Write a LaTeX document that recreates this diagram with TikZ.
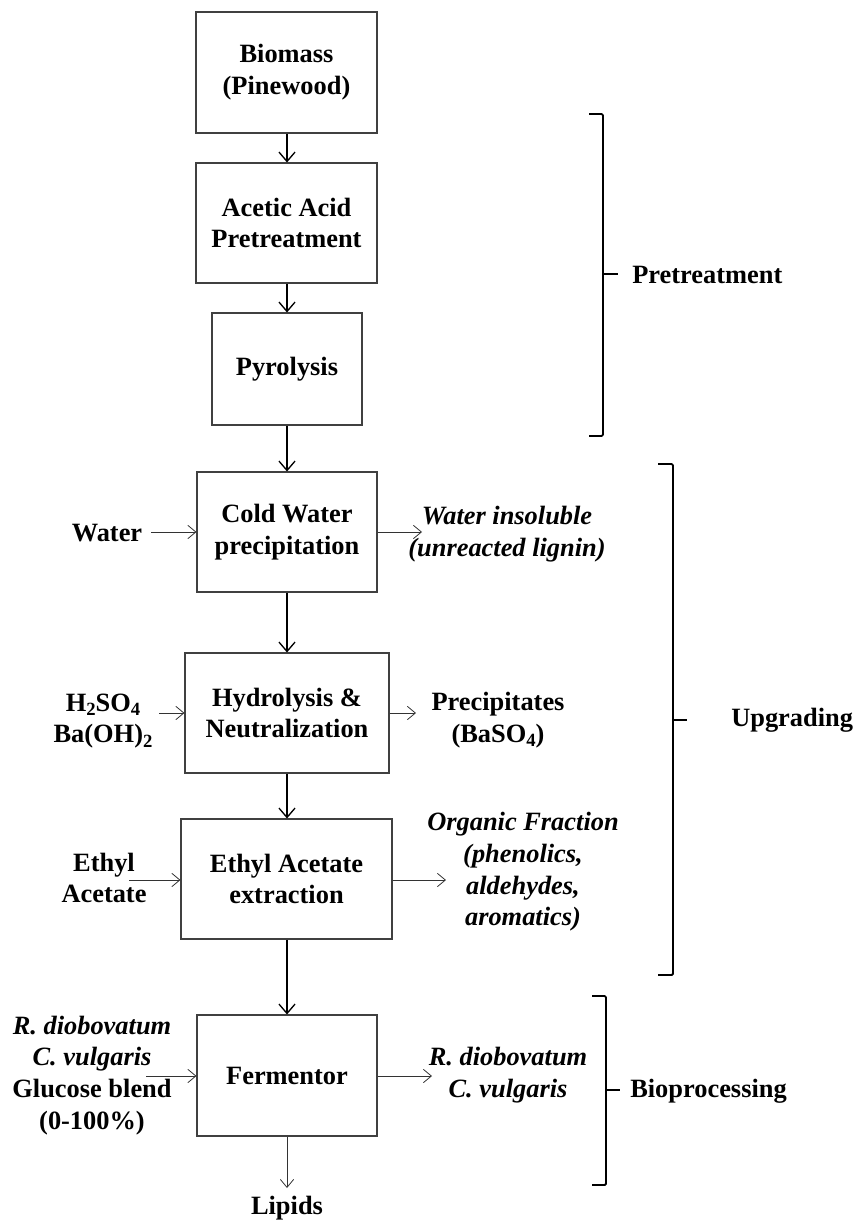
\documentclass[tikz,border=0pt]{standalone}
\usepackage{fontspec}
\setmainfont{Liberation Serif}
\usetikzlibrary{arrows.meta}
\newcommand\sbs[1]{\raisebox{-0.35ex}{\fontsize{14}{14}\selectfont #1}}
\begin{document}
\begin{tikzpicture}[x=0.75pt,y=-0.75pt,
  every node/.style={font=\fontsize{19.8}{23.8}\selectfont\bfseries, align=center, inner sep=0pt},
  procbox/.style={draw=black!75, line width=0.8pt, rectangle},
  mainarrow/.style={line width=1.1pt, -{Straight Barb[length=7pt,width=12pt,line width=1pt]}},
  sidearrow/.style={line width=0.6pt, draw=black!80, -{Straight Barb[length=6pt,width=10pt,line width=0.6pt]}},
  bracketline/.style={line width=1.4pt, rounded corners=1pt}
]
\useasboundingbox (0,0) rectangle (857,1220);

% process boxes
\node[procbox, minimum width=181*0.75pt, minimum height=121*0.75pt] (bio) at (286.5,72.5) {Biomass\\(Pinewood)};
\node[procbox, minimum width=181*0.75pt, minimum height=120*0.75pt] (acet) at (286.5,223) {Acetic Acid\\Pretreatment};
\node[procbox, minimum width=150*0.75pt, minimum height=112*0.75pt] (pyro) at (287,369) {Pyrolysis};
\node[procbox, minimum width=180*0.75pt, minimum height=120*0.75pt] (cold) at (287,532) {Cold Water\\precipitation};
\node[procbox, minimum width=204*0.75pt, minimum height=120*0.75pt] (hydro) at (287,713) {Hydrolysis \&\\Neutralization};
\node[procbox, minimum width=211*0.75pt, minimum height=120*0.75pt] (ethyl) at (286.5,879) {Ethyl Acetate\\extraction};
\node[procbox, minimum width=180*0.75pt, minimum height=121*0.75pt] (ferm) at (287,1075.5) {Fermentor};

% main flow
\draw[mainarrow] (bio.south -| 287,0) -- (acet.north -| 287,0);
\draw[mainarrow] (acet.south -| 287,0) -- (pyro.north -| 287,0);
\draw[mainarrow] (pyro.south -| 287,0) -- (cold.north -| 287,0);
\draw[mainarrow] (cold.south -| 287,0) -- (hydro.north -| 287,0);
\draw[mainarrow] (hydro.south -| 287,0) -- (ethyl.north -| 287,0);
\draw[mainarrow] (ethyl.south -| 287,0) -- (ferm.north -| 287,0);

% inputs
\node (water) at (107,533) {Water};
\coordinate (waterS) at (151,532);
\draw[sidearrow] (waterS) -- (cold.west |- waterS);

\node (acid) at (103,721) {H\sbs{2}SO\sbs{4}\\Ba(OH)\sbs{2}};
\coordinate (acidS) at (159,713);
\draw[sidearrow] (acidS) -- (hydro.west |- acidS);

\node (ea) at (104,878) {Ethyl\\Acetate};
\coordinate (eaS) at (129,880);
\draw[sidearrow] (eaS) -- (ethyl.west |- eaS);

\node (ferin) at (92,1075.5) {\itshape R. diobovatum\\\itshape C. vulgaris\\Glucose blend\\(0-100\%)};
\coordinate (ferinS) at (146,1076);
\draw[sidearrow] (ferinS) -- (ferm.west |- ferinS);

% outputs
\coordinate (insE) at (422,532);
\draw[sidearrow] (cold.east |- insE) -- (insE);
\node (ins) at (507,534.5) {\itshape Water insoluble\\\itshape (unreacted lignin)};

\coordinate (precE) at (416,713);
\draw[sidearrow] (hydro.east |- precE) -- (precE);
\node (prec) at (498,720) {Precipitates\\(BaSO\sbs{4})};

\coordinate (orgE) at (446,880);
\draw[sidearrow] (ethyl.east |- orgE) -- (orgE);
\node (org) at (523,872) {\itshape Organic Fraction\\\itshape (phenolics,\\\itshape aldehydes,\\\itshape aromatics)};

\coordinate (ferE) at (432,1076);
\draw[sidearrow] (ferm.east |- ferE) -- (ferE);
\node (ferout) at (508,1075.5) {\itshape R. diobovatum\\\itshape C. vulgaris};

\node (lip) at (287,1208) {Lipids};
\coordinate (lipE) at (287,1188);
\draw[sidearrow] (ferm.south -| lipE) -- (lipE);

% brackets
\draw[bracketline] (589,114) -- (603,114) -- (603,436) -- (589,436);
\draw[line width=1.4pt] (603,274) -- (618,274);
\node[anchor=west] (pre) at (632,275) {Pretreatment};

\draw[bracketline] (658,464) -- (673,464) -- (673,975) -- (658,975);
\draw[line width=1.4pt] (673,720) -- (687,720);
\node[anchor=west] (upg) at (731,720) {Upgrading};

\draw[bracketline] (592,996) -- (606,996) -- (606,1185) -- (592,1185);
\draw[line width=1.4pt] (606,1090) -- (620,1090);
\node[anchor=west] (biop) at (630,1091) {Bioprocessing};
\end{tikzpicture}
\end{document}
